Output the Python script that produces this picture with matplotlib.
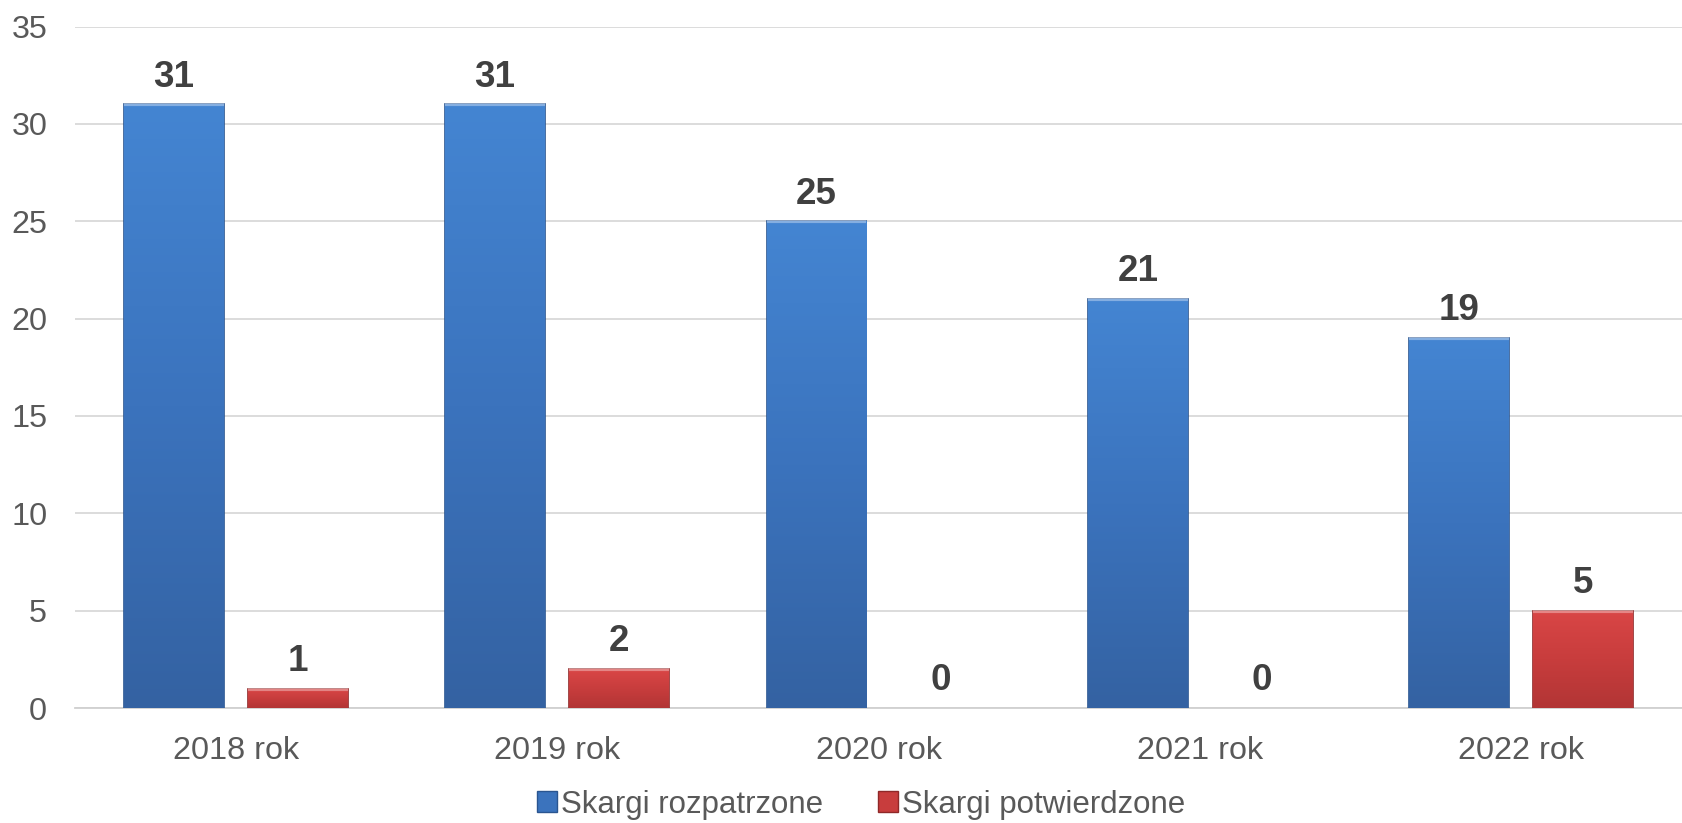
import matplotlib
matplotlib.use("Agg")
import matplotlib.pyplot as plt
import numpy as np
from matplotlib.colors import LinearSegmentedColormap
from matplotlib.patches import Patch

categories = ["2018 rok", "2019 rok", "2020 rok", "2021 rok", "2022 rok"]
rozpatrzone = [31, 31, 25, 21, 19]
potwierdzone = [1, 2, 0, 0, 5]
series_names = ["Skargi rozpatrzone", "Skargi potwierdzone"]
yticks = [0, 5, 10, 15, 20, 25, 30, 35]

plt.rcParams['font.family'] = ['Liberation Sans', 'DejaVu Sans']

fig = plt.figure(figsize=(16.82, 8.23), dpi=100)
ax = fig.add_axes([0.0446, 0.1397, 0.9554, 0.828])

x = np.arange(len(categories))
w = 0.311
off = 0.193

blue_cmap = LinearSegmentedColormap.from_list("b", ["#3462a2", "#3b73bd", "#4485d2"])
red_cmap = LinearSegmentedColormap.from_list("r", ["#b23535", "#c83d3d", "#d94646"])

def grad_bars(xs, vals, base, edge, cmap):
    bars = ax.bar(xs, vals, width=w, color=base, edgecolor=edge, linewidth=1.2, zorder=3)
    grad = np.linspace(0, 1, 256).reshape(-1, 1)
    for b in bars:
        h = b.get_height()
        if h <= 0:
            b.set_visible(False)
            continue
        x0 = b.get_x()
        im = ax.imshow(grad, extent=[x0, x0 + b.get_width(), 0, h], origin='lower',
                       aspect='auto', cmap=cmap, zorder=3.1)
        im.set_clip_path(b)
        ax.plot([x0, x0 + b.get_width()], [h, h], color="#ffffff", alpha=0.35,
                linewidth=3, zorder=3.2, solid_capstyle='butt')
    return bars

b1 = grad_bars(x - off, rozpatrzone, "#3b73bd", "#2a5590", blue_cmap)
b2 = grad_bars(x + off, potwierdzone, "#c83d3d", "#8f2828", red_cmap)

for xs, vals in ((x - off, rozpatrzone), (x + off, potwierdzone)):
    for xi, v in zip(xs, vals):
        ax.annotate(str(v), (xi, v), xytext=(0, 7), textcoords='offset points',
                    ha='center', va='bottom', fontsize=26.5, fontweight='bold',
                    color='#404040', zorder=5)

ax.set_xlim(-0.5, len(categories) - 0.5)
ax.set_ylim(0, 35)
ax.set_yticks(yticks)
ax.set_xticks(x)
ax.set_xticklabels(categories)
ax.tick_params(axis='both', length=0, labelsize=23.3, labelcolor='#595959')
ax.tick_params(axis='y', pad=20)
ax.tick_params(axis='x', pad=20)
ax.yaxis.grid(True, color='#d9d9d9', linewidth=1.3, zorder=0)
ax.set_axisbelow(True)
for s in ['top', 'right', 'left']:
    ax.spines[s].set_visible(False)
ax.spines['bottom'].set_color('#d0d0d0')
ax.spines['bottom'].set_linewidth(1.3)

handles = [Patch(facecolor="#3b73bd", edgecolor="#2a5590"),
           Patch(facecolor="#c83d3d", edgecolor="#8f2828")]
fig.legend(handles, series_names, loc='center', bbox_to_anchor=(0.512, 0.022),
           ncol=2, frameon=False, fontsize=22.5, labelcolor='#595959',
           handlelength=0.65, handleheight=0.65, handletextpad=0.13, columnspacing=1.75,
           borderpad=0.2)

fig.savefig("out.png", dpi=100)
